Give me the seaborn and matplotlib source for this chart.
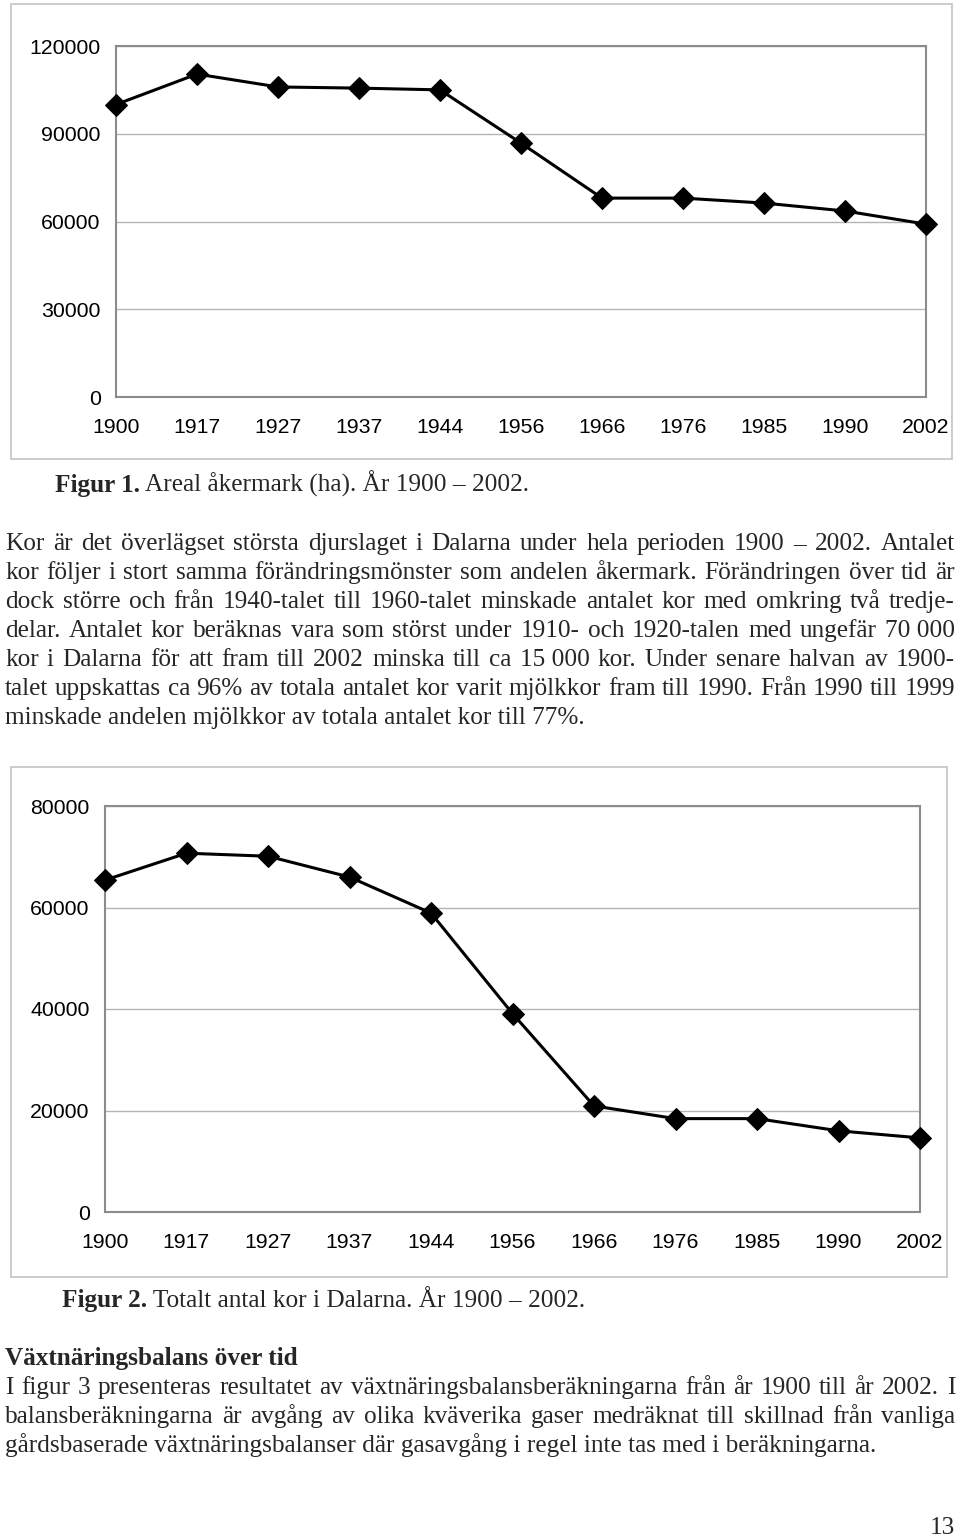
import matplotlib
matplotlib.use("Agg")
import matplotlib.pyplot as plt
import seaborn as sns
import numpy as np
from matplotlib.patches import Rectangle

sns.set_style("white")
plt.rcParams['font.family'] = ['Liberation Sans', 'DejaVu Sans']

# ---------------- data ----------------
years = ["1900", "1917", "1927", "1937", "1944", "1956", "1966", "1976", "1985", "1990", "2002"]
areal_akermark = [100000, 110400, 106000, 105600, 105000, 86800, 68000, 68000, 66300, 63600, 59100]
antal_kor = [65400, 70700, 70100, 66000, 58900, 39100, 20900, 18400, 18400, 16000, 14600]
yticks1 = [0, 30000, 60000, 90000, 120000]
yticks2 = [0, 20000, 40000, 60000, 80000]

caption1 = ("Figur 1.", " Areal åkermark (ha). År 1900 – 2002.")
caption2 = ("Figur 2.", " Totalt antal kor i Dalarna. År 1900 – 2002.")
para1 = [
    "Kor är det överlägset största djurslaget i Dalarna under hela perioden 1900 – 2002. Antalet",
    "kor följer i stort samma förändringsmönster som andelen åkermark. Förändringen över tid är",
    "dock större och från 1940-talet till 1960-talet minskade antalet kor med omkring två tredje-",
    "delar. Antalet kor beräknas vara som störst under 1910- och 1920-talen med ungefär 70\u00a0000",
    "kor i Dalarna för att fram till 2002 minska till ca 15\u00a0000 kor. Under senare halvan av 1900-",
    "talet uppskattas ca 96% av totala antalet kor varit mjölkkor fram till 1990. Från 1990 till 1999",
    "minskade andelen mjölkkor av totala antalet kor till 77%.",
]
heading = "Växtnäringsbalans över tid"
para2 = [
    "I figur 3 presenteras resultatet av växtnäringsbalansberäkningarna från år 1900 till år 2002. I",
    "balansberäkningarna är avgång av olika kväverika gaser medräknat till skillnad från vanliga",
    "gårdsbaserade växtnäringsbalanser där gasavgång i regel inte tas med i beräkningarna.",
]
page_no = "13"

W, H = 960, 1537
fig = plt.figure(figsize=(W / 100, H / 100), dpi=100)
fig.patch.set_facecolor("white")


def fx(x):
    return x / W


def fy(y):
    return 1 - y / H


def make_chart(left, right, top, bottom, frame, values, yticks):
    ax = fig.add_axes([fx(left), fy(bottom), (right - left) / W, (bottom - top) / H])
    xs = np.arange(len(years))
    sns.lineplot(x=xs, y=values, ax=ax, color="black", linewidth=2.2,
                 marker="D", markersize=11, markeredgecolor="black",
                 markerfacecolor="black", clip_on=False, zorder=5)
    ax.set_xlim(0, len(years) - 1)
    ax.set_ylim(yticks[0], yticks[-1])
    ax.set_xticks(xs)
    ax.set_xticklabels(years)
    ax.set_yticks(yticks)
    ax.set_yticklabels([str(v) for v in yticks])
    ax.yaxis.grid(True, color="#b4b4b4", linewidth=1.0)
    ax.set_axisbelow(True)
    for s in ax.spines.values():
        s.set_visible(True)
        s.set_color("#8c8c8c")
        s.set_linewidth(1.5)
    ax.tick_params(axis="both", which="both", length=6, width=1, color="#8c8c8c",
                   labelsize=15.3, labelcolor="black", direction="out")
    ax.tick_params(axis="x", pad=9)
    ax.tick_params(axis="y", pad=5)
    ax.set_xlabel("")
    ax.set_ylabel("")
    fl, ft, fr, fb = frame
    fig.patches.append(Rectangle((fx(fl), fy(fb)), (fr - fl) / W, (fb - ft) / H,
                                 transform=fig.transFigure, fill=False,
                                 edgecolor="#c4c4c4", linewidth=1.2))
    return ax


make_chart(116, 926, 46, 397, (11, 4, 952, 459), areal_akermark, yticks1)
make_chart(105, 920, 806, 1212, (11, 767, 947, 1277), antal_kor, yticks2)

SERIF = ['Liberation Serif', 'DejaVu Serif']
FS = 18.2
renderer = fig.canvas.get_renderer()


def text_width(s, weight="normal"):
    t = fig.text(0, 0, s, fontsize=FS, family=SERIF, weight=weight)
    w = t.get_window_extent(renderer).width
    t.remove()
    return w


def caption(x, y, parts):
    bold, rest = parts
    fig.text(fx(x), fy(y), bold, fontsize=FS, family=SERIF, weight="bold", va="baseline")
    w = text_width(bold, "bold")
    fig.text(fx(x + w), fy(y), rest, fontsize=FS, family=SERIF, va="baseline")


def justified(lines, x0, x1, y0, dy):
    for i, line in enumerate(lines):
        y = y0 + i * dy
        last = (i == len(lines) - 1)
        if last:
            fig.text(fx(x0), fy(y), line, fontsize=FS, family=SERIF, va="baseline")
            continue
        words = line.split(" ")
        widths = [text_width(w) for w in words]
        gap = (x1 - x0 - sum(widths)) / (len(words) - 1)
        x = x0
        for w, wd in zip(words, widths):
            fig.text(fx(x), fy(y), w, fontsize=FS, family=SERIF, va="baseline")
            x += wd + gap


caption(55, 492, caption1)
justified(para1, 5, 955, 550, 29)
caption(62, 1307, caption2)
fig.text(fx(5), fy(1365), heading, fontsize=FS, family=SERIF, weight="bold", va="baseline")
justified(para2, 5, 955, 1394, 29)
fig.text(fx(955), fy(1534), page_no, fontsize=FS, family=SERIF, va="baseline", ha="right")

fig.savefig("out.png", dpi=100, facecolor="white")
